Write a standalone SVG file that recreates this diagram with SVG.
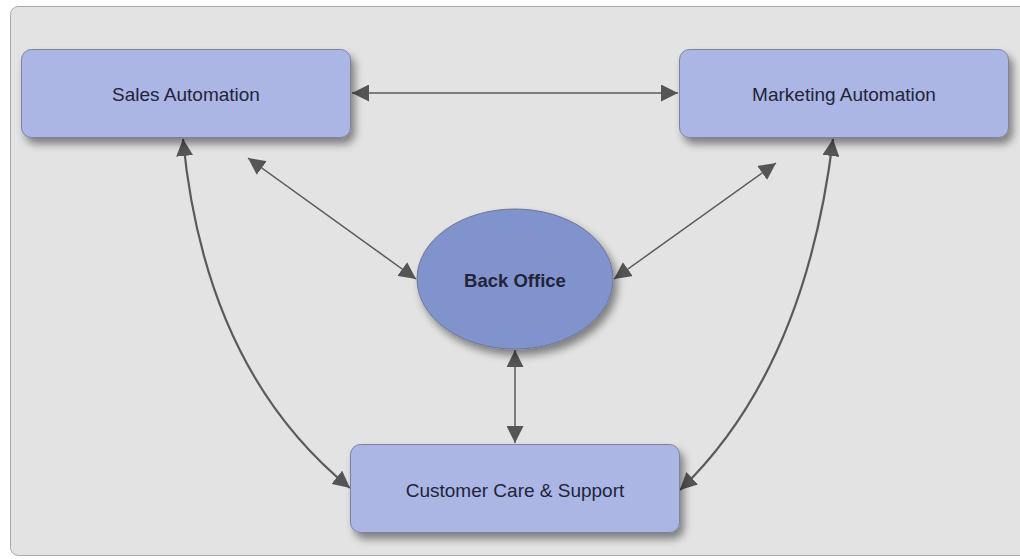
<svg xmlns="http://www.w3.org/2000/svg" width="1020" height="559" viewBox="0 0 1020 559">
<defs>
<filter id="sh" x="-10%" y="-10%" width="130%" height="140%">
<feGaussianBlur in="SourceAlpha" stdDeviation="4"/>
<feOffset dx="4" dy="6" result="b"/>
<feComponentTransfer><feFuncA type="linear" slope="0.45"/></feComponentTransfer>
<feMerge><feMergeNode/><feMergeNode in="SourceGraphic"/></feMerge>
</filter>
<marker id="ah" viewBox="0 0 10 10" refX="10" refY="5" markerWidth="17" markerHeight="17" markerUnits="userSpaceOnUse" orient="auto-start-reverse">
<path d="M0,0 L10,5 L0,10 z" fill="#555"/>
</marker>
</defs>
<style>
.box{fill:#abb6e4;stroke:#7b82a0;stroke-width:1}
.ell{fill:#8193cd;stroke:#6e7596;stroke-width:1}
.lbl{font-family:"Liberation Sans",Arial,sans-serif;font-size:19px;fill:#22243a;text-anchor:middle}
.bold{font-weight:bold;font-size:18.5px}
.con{fill:none;stroke:#5a5a5a;stroke-width:1.5;marker-start:url(#ah);marker-end:url(#ah)}
.thick{stroke-width:2.2}
</style>
<rect x="0" y="0" width="1020" height="559" fill="#ffffff"/>
<rect x="10.5" y="6.5" width="1020" height="549" rx="8" fill="#e3e3e3" stroke="#a9a9a9" stroke-width="1"/>
<g id="connectors">
<line class="con" x1="352" y1="93" x2="678" y2="93"/>
<line class="con" x1="248" y1="158" x2="416" y2="279"/>
<line class="con" x1="776" y1="163" x2="614" y2="279"/>
<line class="con" x1="515" y1="350" x2="515" y2="443"/>
<path class="con thick" d="M183,139 Q205,370 350,488"/>
<path class="con thick" d="M833,139 Q805,370 680,490"/>
</g>
<g id="sales"><rect class="box" x="21.5" y="49.5" width="329" height="88" rx="10" filter="url(#sh)"/><text class="lbl" x="186" y="101">Sales Automation</text></g>
<g id="marketing"><rect class="box" x="679.5" y="49.5" width="329" height="88" rx="10" filter="url(#sh)"/><text class="lbl" x="844" y="101">Marketing Automation</text></g>
<g id="backoffice"><ellipse class="ell" cx="515" cy="279" rx="98" ry="70" filter="url(#sh)"/><text class="lbl bold" x="515" y="287">Back Office</text></g>
<g id="customer"><rect class="box" x="350.5" y="444.5" width="329" height="88" rx="10" filter="url(#sh)"/><text class="lbl" x="515" y="497">Customer Care &amp; Support</text></g>
</svg>
